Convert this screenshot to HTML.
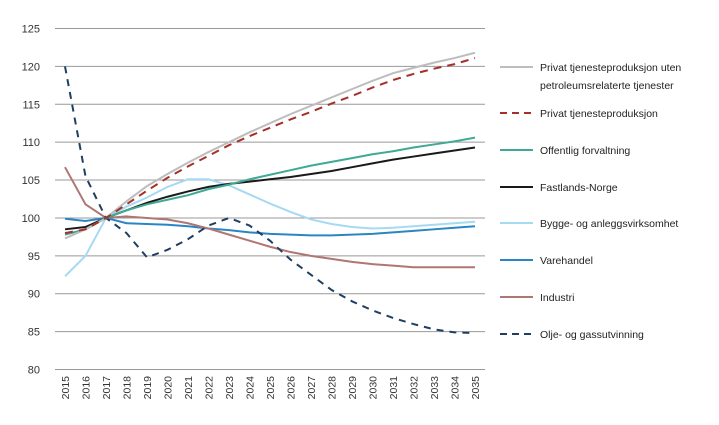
<!DOCTYPE html>
<html><head><meta charset="utf-8"><style>
html,body{margin:0;padding:0;background:#fff;}
svg{display:block;font-family:"Liberation Sans",sans-serif;}
</style></head><body>
<svg id="c" width="719" height="425"></svg>
<script>
const years=[2015,2016,2017,2018,2019,2020,2021,2022,2023,2024,2025,2026,2027,2028,2029,2030,2031,2032,2033,2034,2035];
const yTicks=[80,85,90,95,100,105,110,115,120,125];
const sPrivUten=[97.3,98.5,100,102.2,104.2,105.8,107.3,108.7,110,111.3,112.5,113.7,114.8,115.9,117,118.1,119.1,119.8,120.5,121.1,121.8];
const sPriv=[98,98.5,100,101.8,103.6,105.3,106.8,108.2,109.6,110.8,111.9,113,114,115.1,116.1,117.2,118.2,119,119.7,120.3,121.1];
const sOff=[97.8,98.5,100,101,101.8,102.4,103,103.8,104.4,105.1,105.7,106.3,106.9,107.4,107.9,108.4,108.8,109.3,109.7,110.1,110.6];
const sFast=[98.5,98.8,100,101,102,102.8,103.5,104.1,104.5,104.8,105.1,105.4,105.8,106.2,106.7,107.2,107.7,108.1,108.5,108.9,109.3];
const sBygg=[92.3,95,100,101.5,102.7,104.1,105.1,105.1,104.3,103.1,101.9,100.8,99.8,99.2,98.8,98.6,98.7,98.9,99.1,99.3,99.5];
const sVare=[99.9,99.6,100,99.3,99.2,99.1,98.9,98.6,98.4,98.1,97.9,97.8,97.7,97.7,97.8,97.9,98.1,98.3,98.5,98.7,98.9];
const sInd=[106.7,101.8,100,100.2,100,99.8,99.3,98.6,97.8,97,96.2,95.5,95,94.6,94.2,93.9,93.7,93.5,93.5,93.5,93.5];
const sOlje=[120,105.5,100,98,94.8,95.8,97.2,99,100,99,97,94.5,92.5,90.5,89,87.8,86.8,86,85.3,84.9,84.8];
const NS="http://www.w3.org/2000/svg";
const svg=document.getElementById('c');
const X=i=>65+i*20.5;
const Y=v=>28.5+(125-v)*(341/45);
function mk(t,a,p){const e=document.createElementNS(NS,t);for(const k in a)e.setAttribute(k,a[k]);(p||svg).appendChild(e);return e;}
yTicks.forEach(v=>{
 const l=mk('line',{x1:55,x2:485,y1:Y(v),y2:Y(v),stroke:'#999','stroke-width':1});
 
 
 const t=mk('text',{x:40,y:Y(v)+4,'text-anchor':'end','font-size':11,fill:'#333'});
 t.textContent=v;
 
 
});
years.forEach((y,i)=>{
 const t=mk('text',{x:0,y:0,'text-anchor':'end','font-size':10.5,fill:'#333',transform:`translate(${X(i)+4},376) rotate(-90)`});
 t.textContent=y;
 
 
});
const series=[
 {d:sVare,c:'#2a86c3',n:'Varehandel',ly:260},
 {d:sInd,c:'#b07673',n:'Industri',ly:297},
 {d:sBygg,c:'#a6d9f2',n:'Bygge- og anleggsvirksomhet',ly:223},
 {d:sOlje,c:'#1e3f62',n:'Olje- og gassutvinning',ly:334,dash:'7,6'},
 {d:sFast,c:'#1a1a1a',n:'Fastlands-Norge',ly:187},
 {d:sOff,c:'#3fa996',n:'Offentlig forvaltning',ly:150},
 {d:sPrivUten,c:'#bdbdbd',n:['Privat tjenesteproduksjon uten','petroleumsrelaterte tjenester'],ly:67},
 {d:sPriv,c:'#a5302a',n:'Privat tjenesteproduksjon',ly:113,dash:'8,6'},
];
series.forEach((s,k)=>{
 const pts=s.d.map((v,i)=>X(i)+','+Y(v)).join(' ');
 const a={points:pts,fill:'none',stroke:s.c,'stroke-width':2};
 if(s.dash)a['stroke-dasharray']=s.dash;
 const p=mk('polyline',a);
 
 
 const la={x1:500,x2:533,y1:s.ly,y2:s.ly,stroke:s.c,'stroke-width':2};
 if(s.dash)la['stroke-dasharray']='7,5';
 const l=mk('line',la);
 
 
 const names=Array.isArray(s.n)?s.n:[s.n];
 names.forEach((n,j)=>{
  const t=mk('text',{x:540,y:s.ly+4+j*18,'font-size':10.5,fill:'#222'});
  t.textContent=n;
  
  
 });
});
</script>
</body></html>
